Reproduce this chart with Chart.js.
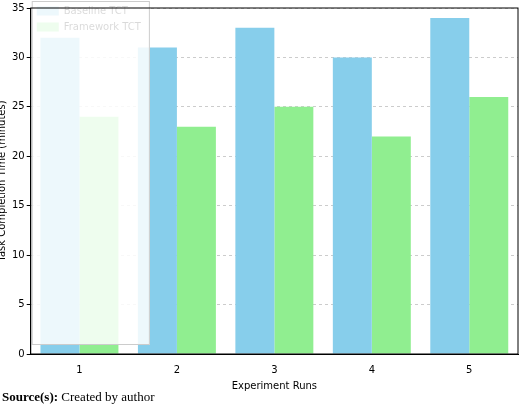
<!DOCTYPE html>
<html><head>
<script src="https://cdn.jsdelivr.net/npm/chart.js@4"></script>
<style>
body{margin:0;background:#fff;}
#wrap{position:relative;width:520px;height:392px;}
#src{font-family:"Liberation Serif",serif;font-size:13px;position:absolute;left:2px;top:389px;}
</style></head><body>
<div id="wrap"><canvas id="c"></canvas></div>
<div id="src"><b>Source(s):</b> Created by author</div>
<script>
const categories=["1","2","3","4","5"];
const baseline=[32,31,33,30,34];
const framework=[24,23,25,22,26];
const frame={id:'frame',
afterDatasetsDraw(ch){const l=ch.legend,c=ch.ctx;c.save();c.fillStyle='rgba(255,255,255,0.85)';c.strokeStyle='#ccc';c.lineWidth=1;c.fillRect(l.left+1,l.top+1,l.width-2,l.height-2);c.strokeRect(l.left+1.5,l.top+1.5,l.width-3,l.height-3);c.restore();},
afterDraw(ch){const a=ch.chartArea,c=ch.ctx;c.save();c.strokeStyle='#000';c.lineWidth=1;c.strokeRect(a.left,a.top,a.right-a.left,a.bottom-a.top);c.restore();}};
new Chart(document.getElementById('c'),{type:'bar',
data:{labels:categories,datasets:[
{label:'Baseline TCT',data:baseline,backgroundColor:'#87CEEB'},
{label:'Framework TCT',data:framework,backgroundColor:'#90EE90'}]},
options:{responsive:true,maintainAspectRatio:false,animation:false,
layout:{padding:{right:2,top:3,left:-4}},
datasets:{bar:{categoryPercentage:0.8,barPercentage:1}},
plugins:{legend:{position:'chartArea',align:'start',labels:{boxWidth:22,boxHeight:9,padding:6,font:{family:'DejaVu Sans',size:10},color:'#000'}},tooltip:{enabled:false}},
scales:{
x:{grid:{display:false},border:{color:'#000'},ticks:{color:'#000',padding:2,font:{family:'DejaVu Sans',size:10}},title:{display:true,text:'Experiment Runs',color:'#000',padding:{top:2,bottom:0},font:{family:'DejaVu Sans',size:10}}},
y:{min:0,max:35,grid:{color:'#ccc',tickColor:'#000',tickLength:4},border:{dash:[3,3],color:'#000'},ticks:{stepSize:5,color:'#000',padding:2,font:{family:'DejaVu Sans',size:10}},title:{display:true,text:'Task Completion Time (minutes)',color:'#000',padding:{top:0,bottom:2},font:{family:'DejaVu Sans',size:10}}}}},
plugins:[frame]});
</script></body></html>
